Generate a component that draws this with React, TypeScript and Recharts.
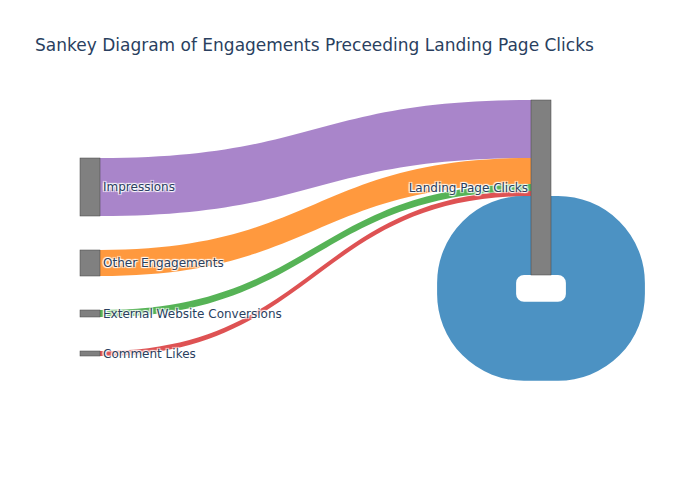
import React from 'react';
import { Sankey } from 'recharts';

// ---- data ----
const sourceNames = ['Impressions', 'Other Engagements', 'External Website Conversions', 'Comment Likes'];
const targetName = 'Landing Page Clicks';
const clickValues = [58, 26, 7, 5];
const selfLoopValue = 79; // Landing Page Clicks -> Landing Page Clicks
const linkColors = ['rgba(148,103,189,0.8)', 'rgba(255,127,14,0.8)', 'rgba(44,160,44,0.8)', 'rgba(214,39,40,0.8)'];
const loopColor = 'rgba(31,119,180,0.8)';
const titleText = 'Sankey Diagram of Engagements Preceeding Landing Page Clicks';

// ---- layout config (not data) ----
const NODE_WIDTH = 20;
const NODE_PADDING = 34;
const TOP_SPACER = 24; // invisible spacer that offsets the source column
const FONT = '"DejaVu Sans", Verdana, sans-serif';
const TEXT_COLOR = '#2a3f5f';
const HALO = '1px 1px 1px #fff, -1px -1px 1px #fff, 1px -1px 1px #fff, -1px 1px 1px #fff';

const nodes = [
  { name: '__spacerTop' },
  ...sourceNames.map((n) => ({ name: n })),
  { name: '__loopIn' },
  { name: targetName },
  { name: '__spacerEnd' },
];
const SPACER_TOP = 0;
const LOOP_IN = sourceNames.length + 1;
const TARGET = sourceNames.length + 2;
const SPACER_END = sourceNames.length + 3;
const hiddenNodes = new Set([SPACER_TOP, LOOP_IN, SPACER_END]);

const links = [
  ...sourceNames.map((_, i) => ({ source: i + 1, target: TARGET, value: clickValues[i] })),
  { source: LOOP_IN, target: TARGET, value: selfLoopValue },
  { source: SPACER_TOP, target: SPACER_END, value: TOP_SPACER },
];
const LOOP_LINK = sourceNames.length;

const data = { nodes, links };

function LinkShape(props: any) {
  const { sourceX, targetX, sourceY, targetY, sourceControlX, targetControlX, linkWidth, index } = props;
  if (index < sourceNames.length) {
    const h = linkWidth / 2;
    const d = `M${sourceX},${sourceY - h} C${sourceControlX},${sourceY - h} ${targetControlX},${targetY - h} ${targetX},${targetY - h} L${targetX},${targetY + h} C${targetControlX},${targetY + h} ${sourceControlX},${sourceY + h} ${sourceX},${sourceY + h} Z`;
    return <path d={d} fill={linkColors[index]} stroke="none" />;
  }
  if (index === LOOP_LINK) {
    const w = linkWidth;
    const r = w * 0.6;
    const e = 7;
    const s = 11;
    const x0 = targetX;
    const x1 = targetX + NODE_WIDTH;
    const yc = targetY;
    const d = [
      `M${x1},${yc}`,
      `H${x1 + e}`,
      `A${r},${r} 0 0 1 ${x1 + e + r},${yc + r}`,
      `V${yc + r + s}`,
      `A${r},${r} 0 0 1 ${x1 + e},${yc + 2 * r + s}`,
      `H${x0 - e}`,
      `A${r},${r} 0 0 1 ${x0 - e - r},${yc + r + s}`,
      `V${yc + r}`,
      `A${r},${r} 0 0 1 ${x0 - e},${yc}`,
      `H${x0}`,
    ].join(' ');
    return <path d={d} fill="none" stroke={loopColor} strokeWidth={w} />;
  }
  return <g />;
}

function NodeShape(props: any) {
  const { x, y, width, height, index, payload } = props;
  if (hiddenNodes.has(index)) return <g />;
  const isTarget = index === TARGET;
  const name = payload?.name ?? nodes[index].name;
  return (
    <g>
      <rect x={x} y={y} width={width} height={height} fill="#808080" stroke="#444" strokeWidth={0.5} />
      <text
        x={isTarget ? x - 3 : x + width + 3}
        y={y + height / 2}
        textAnchor={isTarget ? 'end' : 'start'}
        dominantBaseline="central"
        fontFamily={FONT}
        fontSize={12}
        fill={TEXT_COLOR}
        style={{ textShadow: HALO }}
      >
        {name}
      </text>
    </g>
  );
}

export default function App() {
  return (
    <div style={{ position: 'absolute', left: 0, top: 0, width: 700, height: 500, background: '#fff' }}>
      <Sankey
        width={700}
        height={500}
        data={data}
        nodeWidth={NODE_WIDTH}
        nodePadding={NODE_PADDING}
        iterations={0}
        sort={false}
        linkCurvature={0.5}
        margin={{ top: 100, left: 80, right: 149, bottom: 31 }}
        node={NodeShape}
        link={LinkShape}
      />
      <svg width={700} height={80} style={{ position: 'absolute', left: 0, top: 0, pointerEvents: 'none' }}>
        <text x={35} y={51} fontFamily={FONT} fontSize={17} fill={TEXT_COLOR}>
          {titleText}
        </text>
      </svg>
    </div>
  );
}
